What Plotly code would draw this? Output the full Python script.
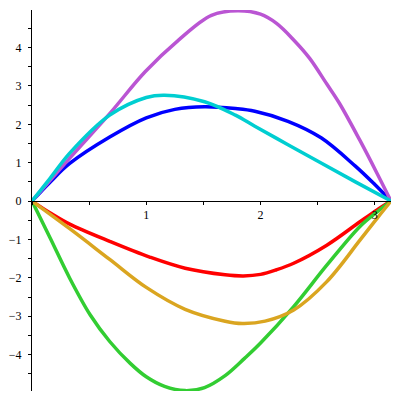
import math
import plotly.graph_objects as go

# values
red_x = [0, 0.16, 0.33, 0.68, 1.03, 1.34, 1.69, 1.85, 2.0, 2.14, 2.29, 2.58, 2.87, 3.02, math.pi]
red_y = [0, -0.31, -0.60, -1.05, -1.46, -1.75, -1.92, -1.95, -1.91, -1.79, -1.62, -1.15, -0.54, -0.23, 0]

blue_x = [0, 0.16, 0.33, 0.68, 1.0, 1.25, 1.51, 1.78, 1.95, 2.24, 2.53, 2.83, 3.0, math.pi]
blue_y = [0, 0.5, 0.98, 1.67, 2.17, 2.39, 2.46, 2.41, 2.34, 2.08, 1.65, 0.91, 0.43, 0]

green_x = [0, 0.16, 0.33, 0.51, 0.68, 0.86, 1.0, 1.16, 1.34, 1.51, 1.69, 1.86,
           2.0, 2.29, 2.58, 2.87, 3.02, math.pi]
green_y = [0, -0.97, -2.01, -2.97, -3.66, -4.23, -4.58, -4.83, -4.94, -4.86, -4.55, -4.10,
           -3.70, -2.75, -1.67, -0.66, -0.28, 0]

purple_x = [0, 0.33, 0.68, 0.99, 1.28, 1.57, 1.8, 2.0, 2.14, 2.29, 2.43, 2.58, 2.69, 2.87, 3.02, math.pi]
purple_y = [0, 1.12, 2.28, 3.37, 4.19, 4.84, 4.96, 4.87, 4.63, 4.20, 3.72, 3.05, 2.55, 1.58, 0.72, 0]

gold_x = [0, 0.33, 0.68, 1.0, 1.34, 1.69, 1.84, 2.04, 2.29, 2.58, 2.87, 3.02, math.pi]
gold_y = [0, -0.72, -1.52, -2.25, -2.82, -3.13, -3.19, -3.13, -2.84, -2.10, -1.02, -0.45, 0]

cyan_x = [0, 0.16, 0.33, 0.68, 1.0, 1.16, 1.51, 1.78, 1.95, 2.24, 2.53, 2.83, math.pi]
cyan_y = [0, 0.6, 1.25, 2.24, 2.70, 2.76, 2.59, 2.24, 1.95, 1.47, 0.99, 0.50, 0]

x_ticks = [1, 2, 3]
y_ticks = [-4, -3, -2, -1, 0, 1, 2, 3, 4]

x_range = [0, math.pi]
y_range = [-4.95, 4.98]

curves = [
    (red_x, red_y, '#FF0000'),
    (blue_x, blue_y, '#0000FF'),
    (green_x, green_y, '#32CD32'),
    (purple_x, purple_y, '#BA55D3'),
    (gold_x, gold_y, '#DAA520'),
    (cyan_x, cyan_y, '#00CED1'),
]

fig = go.Figure()
for xs, ys, col in curves:
    fig.add_trace(go.Scatter(
        x=xs, y=ys,
        mode='lines',
        line=dict(color=col, width=3.5, shape='spline', smoothing=1.0),
        hoverinfo='none'
    ))

tick_font = dict(family='Liberation Serif', size=12, color='black')

# the page body adds an 8px offset, so the margins are shifted to match
fig.update_layout(
    width=400, height=400,
    margin=dict(l=24, r=17, t=2, b=17),
    paper_bgcolor='white',
    plot_bgcolor='white',
    showlegend=False,
    xaxis=dict(
        range=x_range,
        anchor='free',
        position=-y_range[0] / (y_range[1] - y_range[0]),
        automargin=False,
        showline=True, linecolor='black', linewidth=1,
        showgrid=False, zeroline=False,
        tickvals=x_ticks, ticks='outside', ticklen=3, tickcolor='black',
        minor=dict(dtick=0.5, tick0=0, ticks='outside', ticklen=3, tickcolor='black'),
        tickfont=tick_font,
    ),
    yaxis=dict(
        range=y_range,
        automargin=False,
        showline=True, linecolor='black', linewidth=1,
        showgrid=False, zeroline=False,
        tickvals=y_ticks, ticks='outside', ticklen=3, tickcolor='black',
        minor=dict(dtick=0.5, tick0=0, ticks='outside', ticklen=3, tickcolor='black'),
        tickfont=tick_font,
        ticklabelstandoff=4,
    ),
)

fig.write_html("out.html")
